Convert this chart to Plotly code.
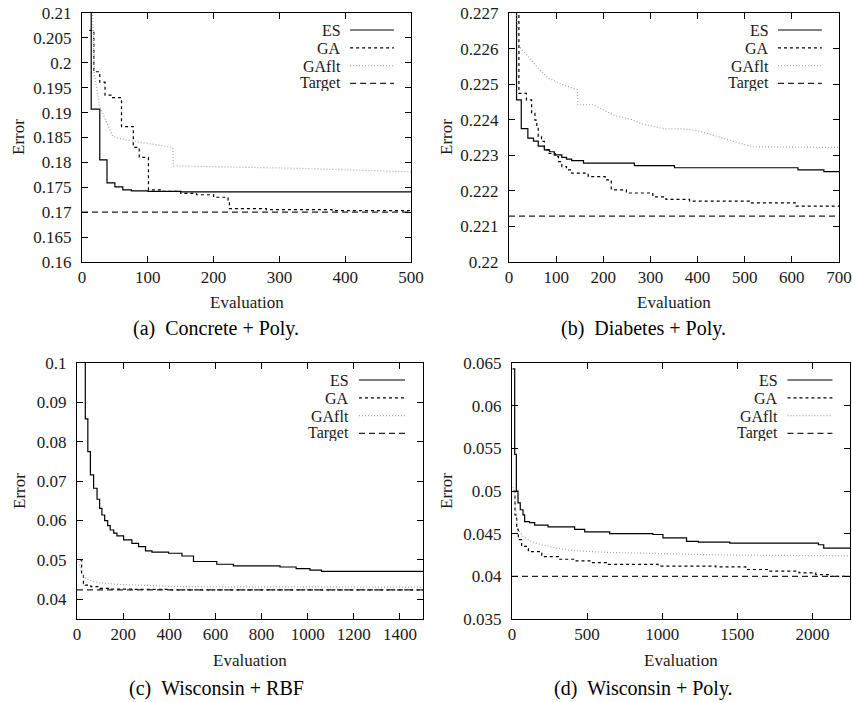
import plotly.graph_objects as go

# ---------------- data ----------------
SERIES = ["ES", "GA", "GAflt", "Target"]

# (a) Concrete + Poly.
a_es_x = [12, 14, 27, 38, 50, 62, 75, 100, 150, 500]
a_es_y = [0.25, 0.1907, 0.1805, 0.1759, 0.1751, 0.1745, 0.1743, 0.1742, 0.1741, 0.1741]
a_ga_x = [11, 18, 27, 35, 45, 60, 78, 87, 101, 120, 150, 174, 200, 222, 224, 280, 380, 500]
a_ga_y = [0.2065, 0.1982, 0.1961, 0.1935, 0.1930, 0.1872, 0.1830, 0.1810, 0.1745, 0.1742,
          0.1738, 0.1735, 0.1730, 0.1724, 0.1707, 0.1705, 0.1703, 0.1701]
a_gaf_x = [15, 19, 27, 37, 47, 67, 98, 138, 139, 230, 331, 500]
a_gaf_y = [0.215, 0.1975, 0.1912, 0.1882, 0.1852, 0.1845, 0.1838, 0.1830, 0.1793, 0.1791, 0.1788, 0.1781]
a_target = 0.170

# (b) Diabetes + Poly.
b_es_x = [14, 16, 26, 40, 52, 62, 75, 86, 96, 112, 122, 133, 158, 266, 351, 613, 668, 700]
b_es_y = [0.2275, 0.22456, 0.22375, 0.22348, 0.22340, 0.22326, 0.22315, 0.22310, 0.22301,
          0.22294, 0.22289, 0.22285, 0.22278, 0.22271, 0.22265, 0.22259, 0.22254, 0.22254]
b_ga_x = [12, 21, 37, 48, 55, 59, 62, 69, 75, 85, 98, 105, 112, 122, 133, 168, 204, 217,
          249, 305, 333, 383, 514, 609, 700]
b_ga_y = [0.2275, 0.22474, 0.22456, 0.22418, 0.22399, 0.22376, 0.22353, 0.22339, 0.22315,
          0.22305, 0.22296, 0.22282, 0.22268, 0.22259, 0.22250, 0.22240, 0.22231, 0.22203,
          0.22194, 0.22183, 0.22176, 0.22171, 0.22166, 0.22157, 0.22156]
b_gaf_x = [17, 18, 23, 34, 62, 83, 115, 145, 146, 178, 197, 225, 257, 282, 331, 373, 401,
           443, 465, 494, 515, 700]
b_gaf_y = [0.2272, 0.22633, 0.22605, 0.22587, 0.22545, 0.22517, 0.22498, 0.22484, 0.22442,
           0.22442, 0.22430, 0.22411, 0.22402, 0.22388, 0.22374, 0.22374, 0.22369, 0.22353,
           0.22343, 0.22334, 0.22324, 0.22322]
b_target = 0.22129

# (c) Wisconsin + RBF
c_es_x = [30, 36, 47, 58, 72, 87, 98, 108, 120, 133, 144, 159, 173, 202, 238, 267, 297,
          325, 397, 455, 505, 606, 678, 880, 950, 1010, 1060, 1500]
c_es_y = [0.105, 0.0858, 0.0775, 0.0716, 0.0682, 0.0654, 0.0631, 0.0614, 0.0600, 0.0587,
          0.0576, 0.0568, 0.0561, 0.0551, 0.0542, 0.0534, 0.0523, 0.0520, 0.0517, 0.0510,
          0.0496, 0.0489, 0.0485, 0.0482, 0.0478, 0.0474, 0.0471, 0.0471]
c_ga_x = [14, 20, 28, 36, 60, 100, 144, 250, 400, 1500]
c_ga_y = [0.0500, 0.0465, 0.0440, 0.0436, 0.0432, 0.0428, 0.0426, 0.0425, 0.0424, 0.0424]
c_gaf_x = [7, 22, 43, 72, 101, 173, 317, 418, 1500]
c_gaf_y = [0.0496, 0.0462, 0.0451, 0.0445, 0.0442, 0.0438, 0.0435, 0.0432, 0.0431]
c_target = 0.0424

# (d) Wisconsin + Poly.
d_es_x = [4, 18, 29, 40, 55, 73, 84, 117, 151, 240, 417, 484, 650, 938, 1005, 1162, 1240,
          1450, 2040, 2075, 2250]
d_es_y = [0.0643, 0.0543, 0.0500, 0.0486, 0.0478, 0.0472, 0.0464, 0.0463, 0.0460, 0.0458,
          0.0455, 0.0452, 0.0450, 0.0449, 0.0445, 0.0441, 0.0440, 0.0439, 0.0437, 0.0433, 0.0433]
d_ga_x = [10, 20, 31, 42, 64, 109, 198, 309, 419, 530, 641, 973, 1357, 1556, 1712, 1911,
          2022, 2111, 2250]
d_ga_y = [0.0500, 0.0472, 0.0455, 0.0443, 0.0435, 0.0429, 0.0423, 0.0420, 0.0418, 0.0416,
          0.0414, 0.0412, 0.0411, 0.0408, 0.0406, 0.0404, 0.0402, 0.0400, 0.0400]
d_gaf_x = [8, 18, 29, 40, 73, 128, 195, 305, 417, 638, 1038, 1400, 2250]
d_gaf_y = [0.0505, 0.0494, 0.0470, 0.0455, 0.0447, 0.0441, 0.0437, 0.0433, 0.0430, 0.0428,
           0.04265, 0.0425, 0.0424]
d_target = 0.0400

# axis ranges and tick labels
a_xrange, a_yrange = [0, 500], [0.16, 0.21]
b_xrange, b_yrange = [0, 700], [0.22, 0.227]
c_xrange, c_yrange = [0, 1500], [0.035, 0.1]
d_xrange, d_yrange = [0, 2250], [0.035, 0.065]
a_xticks = [0, 100, 200, 300, 400, 500]
a_yticks = ["0.16", "0.165", "0.17", "0.175", "0.18", "0.185", "0.19", "0.195", "0.2", "0.205", "0.21"]
b_xticks = [0, 100, 200, 300, 400, 500, 600, 700]
b_yticks = ["0.22", "0.221", "0.222", "0.223", "0.224", "0.225", "0.226", "0.227"]
c_xticks = [0, 200, 400, 600, 800, 1000, 1200, 1400]
c_yticks = ["0.04", "0.05", "0.06", "0.07", "0.08", "0.09", "0.1"]
d_xticks = [0, 500, 1000, 1500, 2000]
d_yticks = ["0.035", "0.04", "0.045", "0.05", "0.055", "0.06", "0.065"]
captions = ["(a)\u00a0\u00a0Concrete + Poly.", "(b)\u00a0\u00a0Diabetes + Poly.",
            "(c)\u00a0\u00a0Wisconsin + RBF", "(d)\u00a0\u00a0Wisconsin + Poly."]
x_title, y_title = "Evaluation", "Error"

# ---------------- styling / layout ----------------
W, H = 852, 702
FONT = "Liberation Serif, DejaVu Serif, serif"
TXT = "#1a1a1a"
FS = 17
LFS = 16

STYLE = {
    "ES": dict(color="black", width=1.2, dash="solid"),
    "GA": dict(color="black", width=1.2, dash="3px,3px"),
    "GAflt": dict(color="#a8a8a8", width=1.2, dash="1px,2px"),
    "Target": dict(color="#222222", width=1.2, dash="6px,4px"),
}

panels = [
    dict(px=(82, 411), py=(13, 262), xr=a_xrange, yr=a_yrange, xt=a_xticks, yt=a_yticks,
         es=(a_es_x, a_es_y), ga=(a_ga_x, a_ga_y), gaf=(a_gaf_x, a_gaf_y), tg=a_target,
         ylab=(18, 137), xlab=(247, 302), cap=(216, 328)),
    dict(px=(509, 839), py=(13, 262), xr=b_xrange, yr=b_yrange, xt=b_xticks, yt=b_yticks,
         es=(b_es_x, b_es_y), ga=(b_ga_x, b_ga_y), gaf=(b_gaf_x, b_gaf_y), tg=b_target,
         ylab=(446, 137), xlab=(674, 302), cap=(643, 328)),
    dict(px=(77, 423), py=(363, 619), xr=c_xrange, yr=c_yrange, xt=c_xticks, yt=c_yticks,
         es=(c_es_x, c_es_y), ga=(c_ga_x, c_ga_y), gaf=(c_gaf_x, c_gaf_y), tg=c_target,
         ylab=(19, 491), xlab=(250, 660), cap=(216, 688)),
    dict(px=(512, 850), py=(363, 619), xr=d_xrange, yr=d_yrange, xt=d_xticks, yt=d_yticks,
         es=(d_es_x, d_es_y), ga=(d_ga_x, d_ga_y), gaf=(d_gaf_x, d_gaf_y), tg=d_target,
         ylab=(446, 491), xlab=(681, 660), cap=(643, 688)),
]

fig = go.Figure()
layout = dict(width=W, height=H, margin=dict(l=0, r=0, t=0, b=0, autoexpand=False),
              paper_bgcolor="white", plot_bgcolor="white", showlegend=False,
              font=dict(family=FONT, size=FS, color=TXT))
annotations, shapes = [], []

LEG_TOP_PX, LEG_STEP_PX = 17, 17.8   # key rows, measured from each frame's top edge

for i, p in enumerate(panels):
    n = "" if i == 0 else str(i + 1)
    xa, ya = "x" + n, "y" + n
    xd = [p["px"][0] / W, p["px"][1] / W]
    yd = [1 - p["py"][1] / H, 1 - p["py"][0] / H]
    ph = p["py"][1] - p["py"][0]
    common = dict(ticks="inside", ticklen=6, tickwidth=1, tickcolor="black", mirror="ticks",
                  showline=True, linecolor="black", linewidth=1, showgrid=False, zeroline=False,
                  automargin=False, tickfont=dict(family=FONT, size=FS, color=TXT))
    layout["xaxis" + n] = dict(domain=xd, range=p["xr"], anchor=ya, tickvals=p["xt"],
                               ticktext=[str(v) for v in p["xt"]], ticklabelstandoff=0, **common)
    layout["yaxis" + n] = dict(domain=yd, range=p["yr"], anchor=xa,
                               tickvals=[float(t) for t in p["yt"]], ticktext=p["yt"],
                               ticklabelstandoff=6, **common)

    fig.add_trace(go.Scatter(x=p["es"][0], y=p["es"][1], mode="lines", line_shape="hv",
                             line=STYLE["ES"], name="ES", xaxis=xa, yaxis=ya))
    fig.add_trace(go.Scatter(x=p["ga"][0], y=p["ga"][1], mode="lines", line_shape="hv",
                             line=STYLE["GA"], name="GA", xaxis=xa, yaxis=ya))
    fig.add_trace(go.Scatter(x=p["gaf"][0], y=p["gaf"][1], mode="lines",
                             line=STYLE["GAflt"], name="GAflt", xaxis=xa, yaxis=ya))
    fig.add_trace(go.Scatter(x=p["xr"], y=[p["tg"], p["tg"]], mode="lines",
                             line=STYLE["Target"], name="Target", xaxis=xa, yaxis=ya))

    # gnuplot-style key (text right-aligned, sample to the right)
    for k, name in enumerate(SERIES):
        yy = 1 - (LEG_TOP_PX + k * LEG_STEP_PX) / ph
        annotations.append(dict(x=0.79, y=yy, xref=xa + " domain", yref=ya + " domain",
                                text=name, showarrow=False, xanchor="right", yanchor="middle",
                                height=16, borderpad=0,
                                font=dict(family=FONT, size=LFS, color=TXT)))
        st = STYLE[name]
        shapes.append(dict(type="line", xref=xa + " domain", yref=ya + " domain",
                           x0=0.815, x1=0.948, y0=yy, y1=yy,
                           line=dict(color=st["color"], width=st["width"], dash=st["dash"])))

    annotations.append(dict(x=p["xlab"][0] / W, y=1 - p["xlab"][1] / H, xref="paper", yref="paper",
                            text=x_title, showarrow=False, xanchor="center", yanchor="middle",
                            font=dict(family=FONT, size=FS, color=TXT)))
    annotations.append(dict(x=p["ylab"][0] / W, y=1 - p["ylab"][1] / H, xref="paper", yref="paper",
                            text=y_title, showarrow=False, xanchor="center", yanchor="middle",
                            textangle=-90, font=dict(family=FONT, size=FS, color=TXT)))
    annotations.append(dict(x=p["cap"][0] / W, y=1 - p["cap"][1] / H, xref="paper", yref="paper",
                            text=captions[i], showarrow=False, xanchor="center", yanchor="middle",
                            font=dict(family=FONT, size=20, color="black")))

layout["annotations"] = annotations
layout["shapes"] = shapes
fig.update_layout(**layout)
fig.write_html("out.html", config={"displayModeBar": False, "staticPlot": True},
               post_script="document.body.style.margin='0';document.body.style.overflow='hidden';")
